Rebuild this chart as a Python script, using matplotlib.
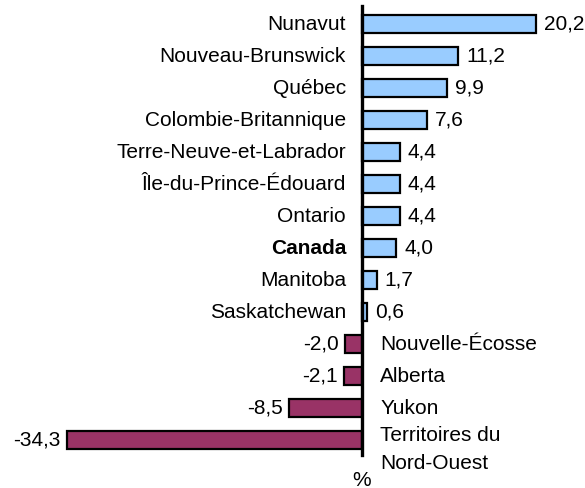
import matplotlib.pyplot as plt
import numpy as np

# Données
provinces = ['Nunavut', 'Nouveau-Brunswick', 'Québec', 'Colombie-Britannique',
             'Terre-Neuve-et-Labrador', 'Île-du-Prince-Édouard', 'Ontario',
             'Canada', 'Manitoba', 'Saskatchewan', 'Nouvelle-Écosse',
             'Alberta', 'Yukon', 'Territoires du\nNord-Ouest']
valeurs = [20.2, 11.2, 9.9, 7.6, 4.4, 4.4, 4.4, 4.0, 1.7, 0.6,
           -2.0, -2.1, -8.5, -34.3]

plt.rcParams['font.family'] = ['Liberation Sans', 'DejaVu Sans']

fig = plt.figure(figsize=(5.85, 4.88), dpi=100)
ax = fig.add_axes([0, 0, 1, 1])

y = np.arange(len(provinces))
couleurs = ['#99CCFF' if v >= 0 else '#993366' for v in valeurs]
ax.barh(y, valeurs, height=0.56, color=couleurs, edgecolor='black', linewidth=1.6, zorder=2)

fs = 15
for i, (nom, v) in enumerate(zip(provinces, valeurs)):
    txt_val = f'{v:.1f}'.replace('.', ',')
    poids = 'bold' if nom == 'Canada' else 'normal'
    if v >= 0:
        ax.text(v + 0.9, i, txt_val, va='center', ha='left', fontsize=fs)
        ax.text(-1.85, i, nom, va='center', ha='right', fontsize=fs, fontweight=poids)
    else:
        ax.text(v - 0.7, i, txt_val, va='center', ha='right', fontsize=fs)
        if '\n' in nom:
            ax.text(2.1, i + 0.3, nom, va='center', ha='left', fontsize=fs, linespacing=1.6)
        else:
            ax.text(2.1, i, nom, va='center', ha='left', fontsize=fs)

ax.set_xlim(-42.05, 25.9)
ax.set_ylim(14.5, -0.75)

for s in ['top', 'right', 'bottom']:
    ax.spines[s].set_visible(False)
ax.spines['left'].set_position(('data', 0))
ax.spines['left'].set_bounds(-0.56, 13.47)
ax.spines['left'].set_linewidth(2.4)
ax.spines['left'].set_zorder(3)
ax.set_xticks([])
ax.set_yticks([])
ax.patch.set_visible(False)

ax.text(0, 14.25, '%', ha='center', va='center', fontsize=fs)

fig.savefig('out.png', dpi=100)
